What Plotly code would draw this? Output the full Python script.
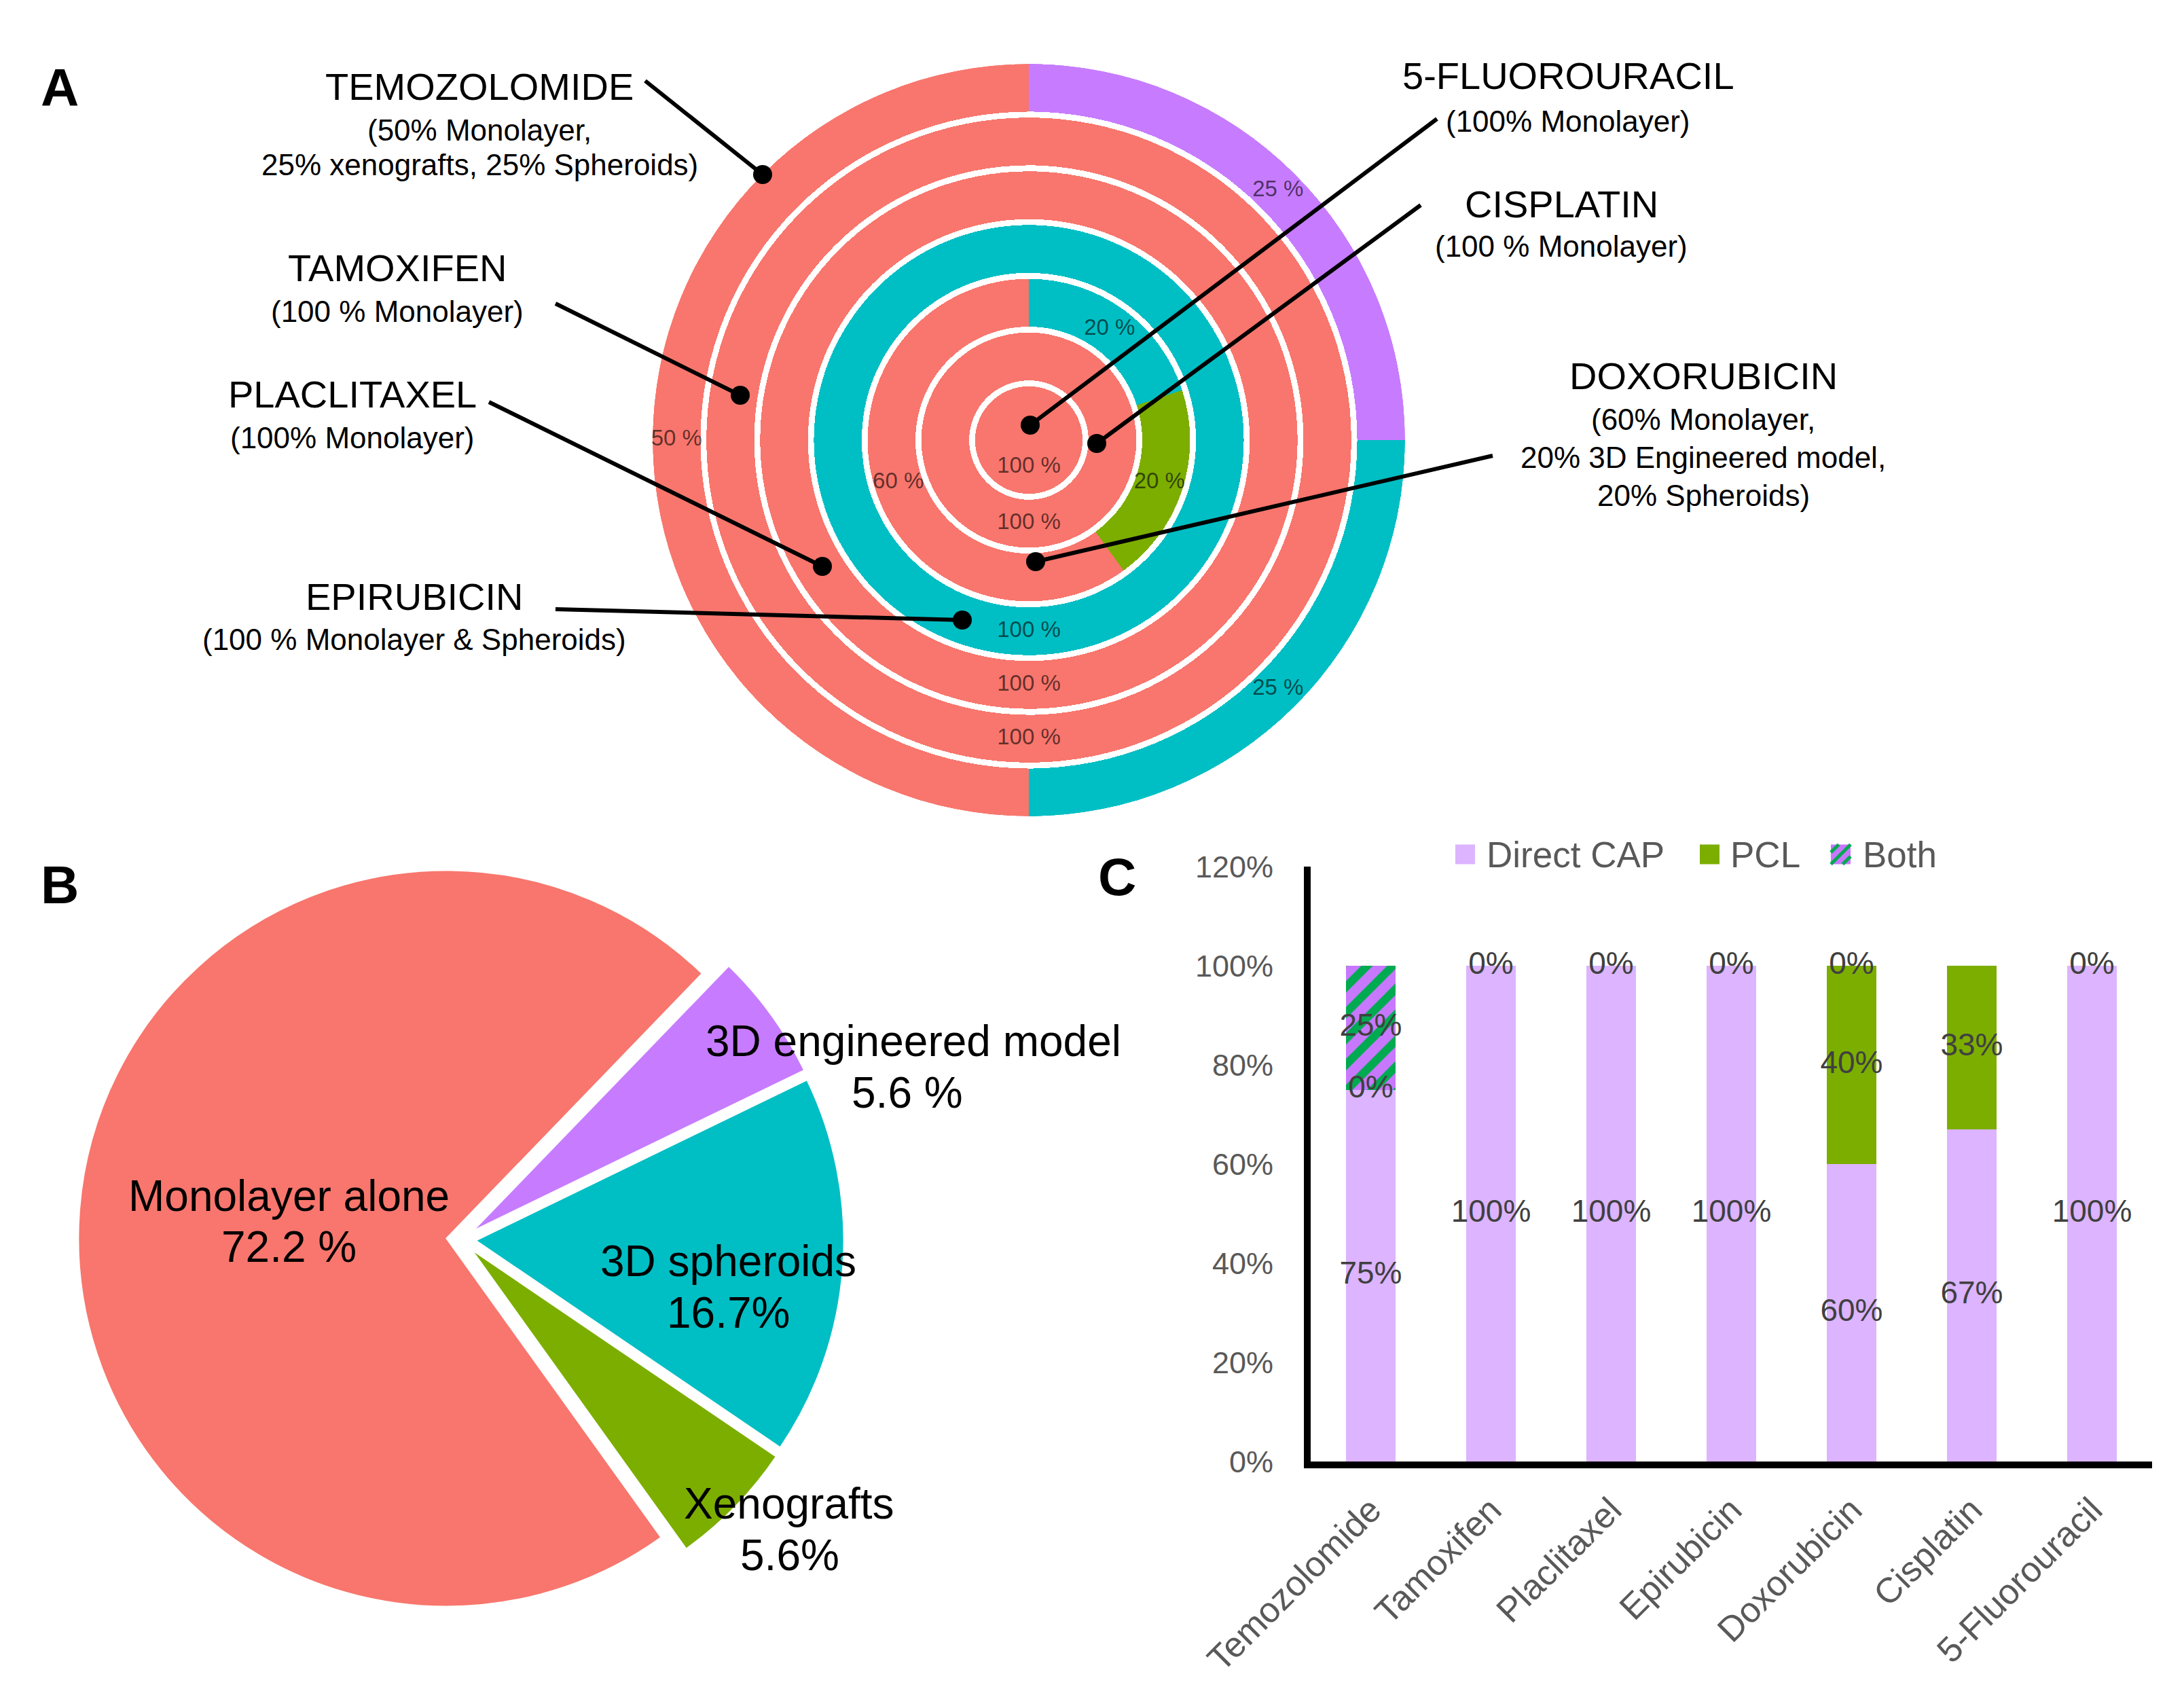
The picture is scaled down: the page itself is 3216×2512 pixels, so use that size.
import plotly.graph_objects as go

W, H = 3216, 2512

# ---------------- DATA ----------------
# Panel A: concentric rings, outer -> inner, slices listed clockwise from 12 o'clock
ring_drugs = ["TEMOZOLOMIDE", "TAMOXIFEN", "PLACLITAXEL", "EPIRUBICIN",
              "DOXORUBICIN", "CISPLATIN", "5-FLUOROURACIL"]
ring_details = [
    ["(50% Monolayer,", "25% xenografts, 25% Spheroids)"],
    ["(100 % Monolayer)"],
    ["(100% Monolayer)"],
    ["(100 % Monolayer & Spheroids)"],
    ["(60% Monolayer,", "20% 3D Engineered model,", "20% Spheroids)"],
    ["(100 % Monolayer)"],
    ["(100% Monolayer)"],
]
ring_models = [
    ["Xenografts", "Spheroids", "Monolayer"],
    ["Monolayer"],
    ["Monolayer"],
    ["Monolayer & Spheroids"],
    ["Spheroids", "3D Engineered model", "Monolayer"],
    ["Monolayer"],
    ["Monolayer"],
]
ring_values = [[25, 25, 50], [100], [100], [100], [20, 20, 60], [100], [100]]

# Panel B: pie (clockwise order)
pie_labels = ["3D engineered model", "3D spheroids", "Xenografts", "Monolayer alone"]
pie_values = [5.6, 16.7, 5.6, 72.2]
pie_pct_text = ["5.6 %", "16.7%", "5.6%", "72.2 %"]

# Panel C: stacked bars
bar_categories = ["Temozolomide", "Tamoxifen", "Placlitaxel", "Epirubicin",
                  "Doxorubicin", "Cisplatin", "5-Fluorouracil"]
direct_cap = [0.75, 1.00, 1.00, 1.00, 0.60, 0.67, 1.00]
pcl = [0.00, 0.00, 0.00, 0.00, 0.40, 0.33, 0.00]
both = [0.25, None, None, None, 0.00, None, None]
bar_series_names = ["Direct CAP", "PCL", "Both"]
y_ticks = [0, 0.2, 0.4, 0.6, 0.8, 1.0, 1.2]

# ---------------- STYLE ----------------
FONT = "Liberation Sans, Arial, sans-serif"
RED, TEAL, PURPLE, GREEN = "#F8766D", "#00BFC4", "#C77CFF", "#7CAE00"
ring_colors = {"Monolayer": RED, "Spheroids": TEAL, "Monolayer & Spheroids": TEAL,
               "Xenografts": PURPLE, "3D Engineered model": GREEN}
pie_colors = [PURPLE, TEAL, GREEN, RED]
LAV, BOTH_BG, BOTH_FG = "#DCB4FF", "#C878FF", "#00AA50"
GRAY = "#595959"
OFF = 8  # page body margin compensation (px)


def fx(x):
    return (x - OFF) / W


def fy(y):
    return 1 - (y - OFF) / H


fig = go.Figure()

# ---------------- Panel A ----------------
CX, CY, R = 1515, 648, 554
n = len(ring_drugs)
gap = 0.11
for k in range(n):
    top = n - k
    base = (n - k - 1) + (gap if k < n - 1 else 0)
    vals = ring_values[k]
    total = sum(vals)
    thetas, widths, cum = [], [], 0
    for v in vals:
        thetas.append((cum + v / 2) / total * 360)
        widths.append(v / total * 360)
        cum += v
    fig.add_trace(go.Barpolar(
        r=[top - base] * len(vals), base=[base] * len(vals), theta=thetas, width=widths,
        marker=dict(color=[ring_colors[m] for m in ring_models[k]], line=dict(width=0)),
        subplot="polar", showlegend=False, hoverinfo="skip"))
    fig.add_trace(go.Scatterpolar(
        r=[(top + base) / 2] * len(vals), theta=thetas, mode="text",
        text=[f"{v} %" for v in vals],
        textfont=dict(family=FONT, size=33, color="rgba(0,0,0,0.62)"),
        subplot="polar", showlegend=False, hoverinfo="skip"))

# ---------------- Panel B ----------------
PB_CX, PB_CY, PB_R, PULL = 679, 1825, 542, 0.04
half = PB_R * (1 + PULL)
fig.add_trace(go.Pie(
    labels=pie_labels, values=pie_values, sort=False, direction="clockwise",
    rotation=44, pull=[PULL] * len(pie_values), textinfo="none",
    marker=dict(colors=pie_colors, line=dict(color="white", width=2)),
    domain=dict(x=[fx(PB_CX - half), fx(PB_CX + half)], y=[fy(PB_CY + half), fy(PB_CY - half)]),
    showlegend=False, hoverinfo="label+value"))

# ---------------- Panel C ----------------
fig.add_trace(go.Bar(x=bar_categories, y=direct_cap, name=bar_series_names[0],
                     marker=dict(color=LAV, line=dict(width=0)), showlegend=False))
fig.add_trace(go.Bar(x=bar_categories, y=pcl, name=bar_series_names[1],
                     marker=dict(color=GREEN, line=dict(width=0)), showlegend=False))
fig.add_trace(go.Bar(x=bar_categories, y=both, name=bar_series_names[2],
                     marker=dict(color=BOTH_BG, line=dict(width=0),
                                 pattern=dict(shape="/", fgcolor=BOTH_FG, bgcolor=BOTH_BG,
                                              size=27, solidity=0.45, fillmode="replace")),
                     showlegend=False))

# value labels at the middle of each stacked segment
lx, ly, lt = [], [], []
for i, cat in enumerate(bar_categories):
    cum = 0.0
    for series in (direct_cap, pcl, both):
        v = series[i]
        if v is None:
            continue
        lx.append(cat)
        ly.append(cum + v / 2)
        lt.append(f"{round(v * 100)}%")
        cum += v
fig.add_trace(go.Scatter(x=lx, y=ly, text=lt, mode="text", textposition="middle center",
                         textfont=dict(family=FONT, size=46, color="#404040"),
                         showlegend=False, hoverinfo="skip", cliponaxis=False))

shapes = []
annotations = []


def add_text(x, y, text, size, color="black", xanchor="center"):
    annotations.append(dict(x=fx(x), y=fy(y), xref="paper", yref="paper", text=text,
                            showarrow=False, xanchor=xanchor, yanchor="middle",
                            font=dict(family=FONT, size=size, color=color)))


# leader lines + dots (panel A)
leaders = [((950, 119), (1123, 257)), ((818, 447), (1090, 582)), ((720, 592), (1211, 834)),
           ((818, 897), (1417, 913)), ((2198, 671), (1525, 827)), ((2092, 302), (1615, 653)),
           ((2116, 175), (1517, 626))]
for (x0, y0), (x1, y1) in leaders:
    shapes.append(dict(type="line", xref="paper", yref="paper", x0=fx(x0), y0=fy(y0),
                       x1=fx(x1), y1=fy(y1), line=dict(color="black", width=6)))
    rr = 14
    shapes.append(dict(type="circle", xref="paper", yref="paper", x0=fx(x1 - rr), x1=fx(x1 + rr),
                       y0=fy(y1 + rr), y1=fy(y1 - rr), fillcolor="black", line=dict(width=0)))

# drug labels (panel A)
label_pos = [(706, 127, [191, 242]), (585, 395, [459]), (519, 580, [645]), (610, 879, [941]),
             (2508, 553, [618, 673, 729]), (2299, 301, [363]), (2309, 112, [179])]
for k, (x, ty, dys) in enumerate(label_pos):
    add_text(x, ty, ring_drugs[k], 56)
    for line, dy in zip(ring_details[k], dys):
        add_text(x, dy, line, 44)

# pie labels (panel B)
pie_text_pos = [((1345, 1533), (1336, 1609)), ((1072, 1857), (1072, 1933)),
                ((1162, 2214), (1163, 2290)), ((425, 1761), (425, 1836))]
for k, ((x1, y1), (x2, y2)) in enumerate(pie_text_pos):
    add_text(x1, y1, pie_labels[k], 64)
    add_text(x2, y2, pie_pct_text[k], 64)

# panel letters
for letter, (x, y) in zip(["A", "B", "C"], [(88, 129), (88, 1303), (1645, 1291)]):
    add_text(x, y, f"<b>{letter}</b>", 78)

# custom legend (panel C)
leg_sq = 29
leg_y = 1258
leg_items = [(2143, 2187, LAV), (2503, 2546, GREEN), (2696, 2741, BOTH_BG)]
for k, (sx, tx, col) in enumerate(leg_items):
    shapes.append(dict(type="rect", xref="paper", yref="paper", x0=fx(sx), x1=fx(sx + leg_sq),
                       y0=fy(leg_y + leg_sq / 2), y1=fy(leg_y - leg_sq / 2),
                       fillcolor=col, line=dict(width=0)))
    add_text(tx, leg_y, bar_series_names[k], 53, color=GRAY, xanchor="left")
# hatch stripes for "Both" legend icon
sx, s = 2696, leg_sq
y0 = leg_y - s / 2
for a, b in [((0, 1), (1, 0)), ((0, 0.4), (0.4, 0)), ((0.6, 1), (1, 0.6))]:
    shapes.append(dict(type="line", xref="paper", yref="paper",
                       x0=fx(sx + a[0] * s), y0=fy(y0 + a[1] * s),
                       x1=fx(sx + b[0] * s), y1=fy(y0 + b[1] * s),
                       line=dict(color=BOTH_FG, width=5)))

fig.update_layout(
    width=W, height=H, autosize=False,
    margin=dict(l=0, r=0, t=0, b=0, pad=0, autoexpand=False),
    paper_bgcolor="white", plot_bgcolor="white",
    font=dict(family=FONT),
    showlegend=False,
    barmode="stack", bargap=0.593,
    polar=dict(
        domain=dict(x=[fx(CX - R), fx(CX + R)], y=[fy(CY + R), fy(CY - R)]),
        bgcolor="rgba(0,0,0,0)", hole=0, bargap=0, barmode="overlay",
        radialaxis=dict(range=[0, n], visible=False),
        angularaxis=dict(rotation=90, direction="clockwise", visible=False),
    ),
    xaxis=dict(domain=[fx(1930), fx(3169)], anchor="y", type="category", automargin=False,
               showline=True, linewidth=10, linecolor="black", ticks="",
               showgrid=False, zeroline=False, tickangle=-45,
               tickfont=dict(family=FONT, size=52, color=GRAY), ticklabelstandoff=10),
    yaxis=dict(domain=[fy(2152), fy(1276)], anchor="x", range=[0, 1.2], automargin=False,
               tickvals=y_ticks, tickformat=".0%",
               showline=True, linewidth=10, linecolor="black", ticks="",
               showgrid=False, zeroline=False,
               tickfont=dict(family=FONT, size=45, color=GRAY), ticklabelstandoff=36),
    shapes=shapes, annotations=annotations,
)

fig.write_html("out.html")
